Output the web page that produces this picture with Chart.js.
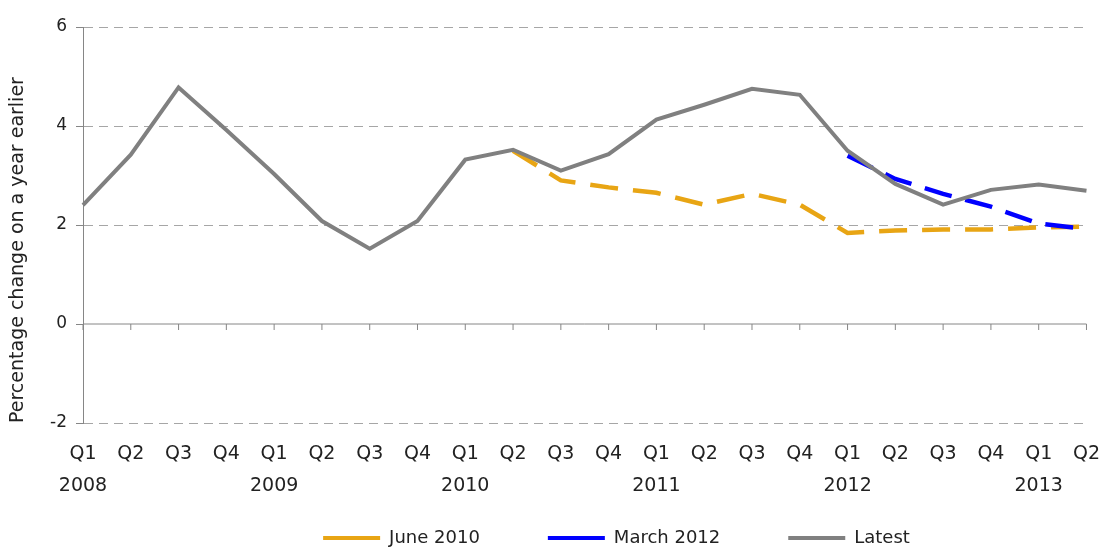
<!DOCTYPE html>
<html>
<head>
<meta charset="utf-8">
<title>Percentage change on a year earlier</title>
<script src="https://cdn.jsdelivr.net/npm/chart.js@4.4.0/dist/chart.umd.min.js"></script>
<style>
  html, body { margin: 0; padding: 0; background: #fff; }
</style>
</head>
<body>
<canvas id="myChart" width="1106" height="548"></canvas>
<script>
const quarters = ['Q1', 'Q2', 'Q3', 'Q4', 'Q1', 'Q2', 'Q3', 'Q4', 'Q1', 'Q2', 'Q3',
  'Q4', 'Q1', 'Q2', 'Q3', 'Q4', 'Q1', 'Q2', 'Q3', 'Q4', 'Q1', 'Q2'];
const years = ['2008', '', '', '', '2009', '', '', '', '2010', '', '', '',
  '2011', '', '', '', '2012', '', '', '', '2013', ''];

const june2010 = [null, null, null, null, null, null, null, null, null,
  3.5, 2.9, 2.76, 2.65, 2.41, 2.63, 2.41, 1.84, 1.89, 1.91, 1.91, 1.95, 1.97];
const march2012 = [null, null, null, null, null, null, null, null, null, null, null,
  null, null, null, null, null, 3.4, 2.93, 2.63, 2.37, 2.03, 1.92];
const latest = [2.4, 3.42, 4.78, 3.92, 3.03, 2.08, 1.52, 2.08, 3.32, 3.52, 3.1,
  3.43, 4.13, 4.43, 4.75, 4.63, 3.5, 2.83, 2.41, 2.71, 2.82, 2.69];

const yTicks = { min: -2, max: 6, step: 2 };

Chart.defaults.font.family = '"DejaVu Sans", sans-serif';
Chart.defaults.color = '#222';

// solid zero line with small tick marks hanging below it
const zeroAxis = {
  id: 'zeroAxis',
  beforeDatasetsDraw(chart) {
    const { ctx, chartArea, scales } = chart;
    const y0 = scales.y.getPixelForValue(0);
    ctx.save();
    ctx.strokeStyle = '#868686';
    ctx.lineWidth = 1;
    ctx.beginPath();
    ctx.moveTo(chartArea.left, y0);
    ctx.lineTo(chartArea.right, y0);
    quarters.forEach((q, i) => {
      const x = scales.x.getPixelForValue(i);
      ctx.moveTo(x, y0);
      ctx.lineTo(x, y0 + 6);
    });
    ctx.stroke();
    ctx.restore();
  },
};

// legend sits right of centre and tucked under the axis labels in the original
const legendShift = {
  id: 'legendShift',
  afterLayout(chart) {
    const lg = chart.legend;
    lg.left += 73;
    lg.right += 73;
    lg.top -= 47;
    lg.bottom -= 47;
  },
};

const data = {
  labels: quarters.map((q, i) => [q, years[i]]),
  datasets: [
    {
      label: 'June 2010',
      data: june2010,
      borderColor: '#e8a514',
      backgroundColor: '#e8a514',
      borderWidth: 4.5,
      borderDash: [28, 15],
      order: 3,
    },
    {
      label: 'March 2012',
      data: march2012,
      borderColor: '#0000ff',
      backgroundColor: '#0000ff',
      borderWidth: 4.5,
      borderDash: [28, 14],
      order: 2,
    },
    {
      label: 'Latest',
      data: latest,
      borderColor: '#808080',
      backgroundColor: '#808080',
      borderWidth: 4,
      order: 1,
    },
  ],
};

const config = {
  type: 'line',
  data: data,
  plugins: [zeroAxis, legendShift],
  options: {
    responsive: false,
    animation: false,
    layout: {
      padding: { top: 27, right: 19, bottom: -56, left: 0 },
    },
    elements: {
      point: { radius: 0 },
      line: { tension: 0, fill: false },
    },
    scales: {
      x: {
        grid: { display: false, drawTicks: true, tickLength: 9 },
        border: { display: false },
        ticks: {
          maxRotation: 0,
          autoSkip: false,
          padding: 6,
          font: { size: 19, lineHeight: 1.684 },
        },
      },
      y: {
        min: yTicks.min,
        max: yTicks.max,
        ticks: {
          stepSize: yTicks.step,
          padding: 9,
          font: { size: 17 },
        },
        grid: {
          color: (ctx) => (ctx.tick && ctx.tick.value === 0 ? 'rgba(0,0,0,0)' : '#a6a6a6'),
          tickColor: '#868686',
          tickLength: 7,
        },
        border: { display: true, color: '#868686', dash: [9, 6] },
        title: {
          display: true,
          text: 'Percentage change on a year earlier',
          align: 'start',
          font: { size: 19 },
          padding: { top: 7, bottom: 0 },
        },
        afterFit(scale) {
          scale.width = 83;
        },
      },
    },
    plugins: {
      legend: {
        position: 'bottom',
        labels: {
          boxWidth: 57,
          boxHeight: 4,
          padding: 68,
          font: { size: 18 },
          sort: (a, b) => a.datasetIndex - b.datasetIndex,
          generateLabels(chart) {
            return Chart.defaults.plugins.legend.labels.generateLabels(chart).map((item) => {
              const ds = chart.data.datasets[item.datasetIndex];
              item.fillStyle = ds.borderColor;
              item.strokeStyle = ds.borderColor;
              item.lineWidth = 0;
              item.lineDash = [];
              return item;
            });
          },
        },
      },
      tooltip: { enabled: false },
    },
  },
};

const myChart = new Chart(document.getElementById('myChart'), config);
</script>
</body>
</html>
